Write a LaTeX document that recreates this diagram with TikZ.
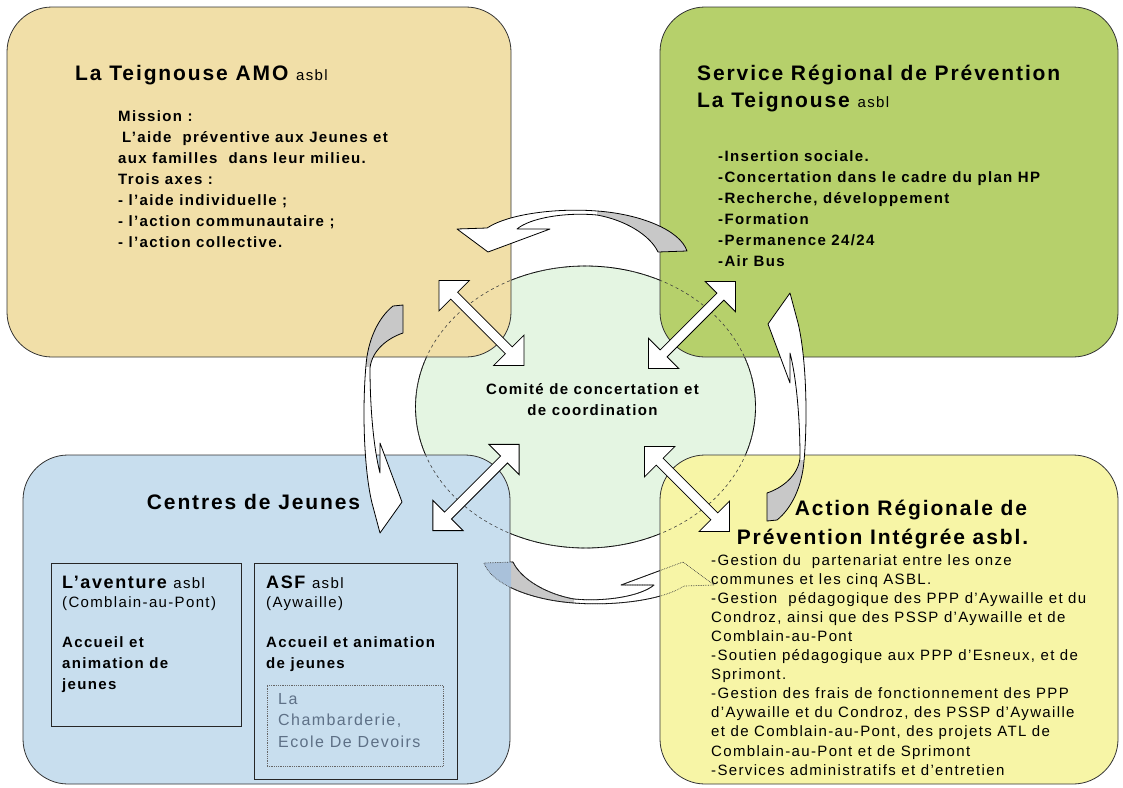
\documentclass[tikz,border=0pt]{standalone}
\usepackage{fontspec}
\setmainfont{Liberation Sans}[LetterSpace=9]
\usepackage{tikz}
\usetikzlibrary{positioning,shapes.arrows,calc}

\definecolor{amofill}  {HTML}{F1DFA8}
\definecolor{srpfill}  {HTML}{B6D06B}
\definecolor{cjfill}   {HTML}{C8DEEE}
\definecolor{arpifill} {HTML}{F7F5A6}
\definecolor{comfill}  {HTML}{E4F5E2}
\definecolor{backface} {HTML}{C8C8C8}
\definecolor{ghostfill}{HTML}{A9C1DA}
\definecolor{dimtext}  {HTML}{5E7086}

\newcommand{\ttlfont}{\fontsize{21}{26}\selectfont\bfseries}
\newcommand{\subfont}{\fontsize{18}{22}\selectfont\bfseries}
\newcommand{\txtfont}{\fontsize{15}{21}\selectfont\bfseries}
\newcommand{\asbl}{{\fontsize{15}{18}\selectfont\mdseries asbl}}

\tikzset{
  % --- boxes
  box/.style     = {draw=black!80, line width=0.8pt, rounded corners=45pt, inner sep=0pt},
  subbox/.style  = {draw=black!85, line width=1pt, inner sep=0pt},
  dotbox/.style  = {draw=black!60, densely dotted, line width=0.8pt, inner sep=0pt},
  % --- texts
  ttl/.style     = {font=\ttlfont, inner sep=0pt},
  sub/.style     = {font=\subfont, inner sep=0pt},
  plain/.style   = {font=\fontsize{15}{21}\selectfont, inner sep=0pt},
  txt/.style     = {font=\txtfont, inner sep=0pt, align=left, anchor=north west},
  dimtxt/.style  = {txt, font=\fontsize{16}{21.5}\selectfont, text=dimtext},
  arpitxt/.style = {txt, font=\fontsize{15}{19.1}\selectfont},
  % --- arrows
  outline/.style = {draw=black, line width=0.8pt, line join=round},
  ghost/.style   = {draw=black!75, dashed, line width=0.6pt},
  ghostdot/.style= {draw=black!75, densely dotted, line width=0.7pt},
  link/.style    = {double arrow, draw=black, fill=white, line width=0.8pt,
                    inner sep=0pt, inner ysep=4.5pt, double arrow head extend=16.5pt},
}

% ribbons of the cycle (pixel coordinates, y downwards)
\newcommand{\toparc}{(457,229) -- (487,228) .. controls (510,213) and (560,208) .. (597,211)
  .. controls (640,214) and (680,230) .. (687,251) -- (658,252)
  .. controls (650,235) and (625,220) .. (597,215)
  .. controls (565,212) and (530,218) .. (517,229) -- (550,229) -- (488,252) -- cycle}
\newcommand{\sidearc}{(403,305) -- (393,306) .. controls (378,318) and (368,340) .. (366,365)
  .. controls (362,410) and (364,470) .. (372,503) -- (380,533) -- (402,502) -- (380,443)
  -- (380,473) .. controls (374,450) and (370,410) .. (370,368)
  .. controls (372,350) and (388,338) .. (403,333) -- cycle}
\newcommand{\cyclearrow}[2]{%
  \fill[white] #1;
  \begin{scope} \clip #2; \fill[backface] #1; \end{scope}
  \draw[outline] #1;}

\begin{document}
\begin{tikzpicture}[x=1pt, y=-1pt]
  \useasboundingbox (0,0) rectangle (1123,787);
  \coordinate (ctr) at (585.5,407);

  % ------------------------------------------------------------------ comite
  \fill[comfill] (ctr) ellipse [x radius=170, y radius=141];
  \draw[outline] (ctr) ellipse [x radius=170, y radius=141];

  % lower ribbon, behind the boxes
  \begin{scope}[rotate around={180:(ctr)}]
    \cyclearrow{\toparc}{(597,150) rectangle (720,300)}
  \end{scope}

  % ------------------------------------------------------------------ boxes
  \node[box, fill=amofill,  minimum width=504pt, minimum height=350pt] (amo)  at (259,182) {};
  \node[box, fill=srpfill,  minimum width=458pt, minimum height=350pt] (srp)  at (889,182) {};
  \node[box, fill=cjfill,   minimum width=487pt, minimum height=329pt] (cj)   at (266.5,619.5) {};
  \node[box, fill=arpifill, minimum width=458pt, minimum height=329pt] (arpi) at (889,619.5) {};

  \node[subbox, minimum width=190pt, minimum height=163pt] (avent) at (146,644.5) {};
  \node[subbox, minimum width=203pt, minimum height=216pt] (asf)   at (355.5,671) {};
  \node[dotbox, minimum width=176pt, minimum height=81pt]  (edd)   at (355,725.5) {};

  % hidden outlines seen through the boxes
  \draw[ghost] (ctr) ellipse [x radius=170, y radius=141];
  \begin{scope}[rotate around={180:(ctr)}]
    \begin{scope} \clip (660,150) rectangle (720,300); \fill[ghostfill] \toparc; \end{scope}
    \draw[ghostdot] \toparc;
  \end{scope}

  % ------------------------------------------------------------------ cycle
  \cyclearrow{\toparc}{(597,150) rectangle (720,300)}
  \cyclearrow{\sidearc}{(300,280) rectangle (420,366)}
  \begin{scope}[rotate around={180:(585,413)}]
    \cyclearrow{\sidearc}{(300,280) rectangle (420,366)}
  \end{scope}

  % ------------------------------------------------------------------ links
  \node[link, minimum height=120pt, rotate=-45] (amolink)  at (481.5,323) {};
  \node[link, minimum height=123pt, rotate=45]  (srplink)  at (692,325) {};
  \node[link, minimum height=122pt, rotate=45]  (cjlink)   at (476,487.5) {};
  \node[link, minimum height=120pt, rotate=-45] (arpilink) at (687,489) {};

  % ------------------------------------------------------------------ texts
  \node[font=\txtfont, align=center, inner sep=0pt] (comtext) at (592.5,399.5)
    {Comité de concertation et\\de coordination};

  \node[ttl, anchor=base west] (amotitle) at (75,80) {La Teignouse AMO \asbl};
  \node[txt] (amotext) at (118,110)
    {Mission :\\\hspace*{4pt}L’aide\ \ préventive aux Jeunes et\\aux familles\ \ dans leur milieu.\\
     Trois axes :\\- l’aide individuelle ;\\- l’action communautaire ;\\- l’action collective.};

  \node[ttl, anchor=base west] (srptitle) at (697,80) {Service Régional de Prévention};
  \node[ttl, anchor=base west] (srpname)  at (697,107) {La Teignouse \asbl};
  \node[txt] (srptext) at (718,150)
    {-Insertion sociale.\\-Concertation dans le cadre du plan HP\\-Recherche, développement\\
     -Formation\\-Permanence 24/24\\-Air Bus};

  \node[ttl, anchor=base] (cjtitle) at (253.5,509.5) {Centres de Jeunes};
  \node[sub, anchor=base west]   (aventname) at (62,588) {L’aventure \asbl};
  \node[plain, anchor=base west] (aventtown) at (62,607.5) {(Comblain-au-Pont)};
  \node[txt] (aventtext) at (62,636) {Accueil et\\animation de\\jeunes};
  \node[sub, anchor=base west]   (asfname) at (266,588) {ASF \asbl};
  \node[plain, anchor=base west] (asftown) at (266,607.5) {(Aywaille)};
  \node[txt] (asftext) at (266,636) {Accueil et animation\\de jeunes};
  \node[dimtxt] (eddtext) at (278,693) {La\\Chambarderie,\\Ecole De Devoirs};

  \node[ttl, anchor=base] (arpititle) at (911,515.5) {Action Régionale de};
  \node[ttl, anchor=base] (arpiname)  at (882.5,544.5) {Prévention Intégrée asbl.};
  \node[arpitxt] (arpitext) at (711,554)
    {-Gestion du\ \ partenariat entre les onze\\communes et les cinq ASBL.\\
     -Gestion\ \ pédagogique des PPP d’Aywaille et du\\Condroz, ainsi que des PSSP d’Aywaille et de\\
     Comblain-au-Pont\\-Soutien pédagogique aux PPP d’Esneux, et de\\Sprimont.\\
     -Gestion des frais de fonctionnement des PPP\\d’Aywaille et du Condroz, des PSSP d’Aywaille\\
     et de Comblain-au-Pont, des projets ATL de\\Comblain-au-Pont et de Sprimont\\
     -Services administratifs et d’entretien};
\end{tikzpicture}
\end{document}
